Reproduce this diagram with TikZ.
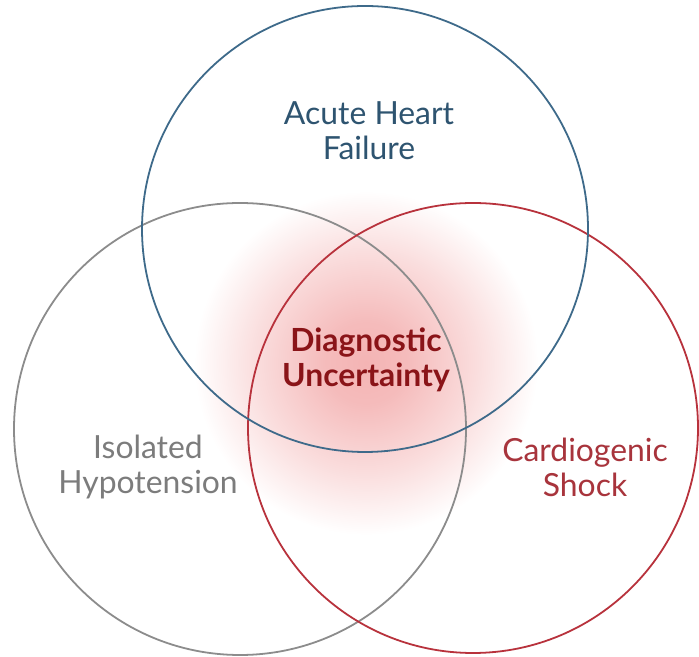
\documentclass[tikz,border=0pt]{standalone}
\usepackage{fontspec}
\setmainfont{Lato}
\usepackage{tikz}

\definecolor{ahfblue}{HTML}{3E6A8A}
\definecolor{ahftext}{HTML}{2E5470}
\definecolor{isogrey}{HTML}{8C8C8C}
\definecolor{isotext}{HTML}{7C7C7C}
\definecolor{csred}{HTML}{B8323C}
\definecolor{cstext}{HTML}{A8343C}
\definecolor{dutext}{HTML}{8A1418}
\definecolor{glow}{HTML}{F4B4B4}

\pgfdeclareradialshading{duglow}{\pgfpoint{0bp}{0bp}}{%
  color(0bp)=(glow); color(6bp)=(glow!90!white); color(16bp)=(glow!45!white);
  color(25bp)=(white); color(50bp)=(white)}

\tikzset{
  setlabel/.style={align=center,font=\fontsize{32}{35}\selectfont},
  setring/.style={line width=1.8pt}
}

\begin{document}
\begin{tikzpicture}[x=1bp,y=1bp]
      \fill[white] (0,0) rectangle (699,657);
      \useasboundingbox (0,0) rectangle (699,657);
      % soft glow behind the centre
      \shade[shading=duglow] (366,294) circle (172);
      \coordinate (ahfc) at (365,428);
      \coordinate (isoc) at (240,228);
      \coordinate (csc) at (473,229);
      \draw[setring,isogrey] (isoc) circle (226);
      \draw[setring,csred] (csc) circle (225);
      \draw[setring,ahfblue] (ahfc) circle (223);
      \node[setlabel,text=ahftext] (ahf) at (369,526) {Acute Heart\\Failure};
      \node[setlabel,text=isotext] (iso) at (148,190) {Isolated\\Hypotension};
      \node[setlabel,text=cstext] (cs) at (585,190) {Cardiogenic\\Shock};
      \node[setlabel,text=dutext,font=\fontsize{32}{35}\selectfont\bfseries] (du) at (366,297) {Diagnostic\\Uncertainty};
    \end{tikzpicture}
\end{document}
